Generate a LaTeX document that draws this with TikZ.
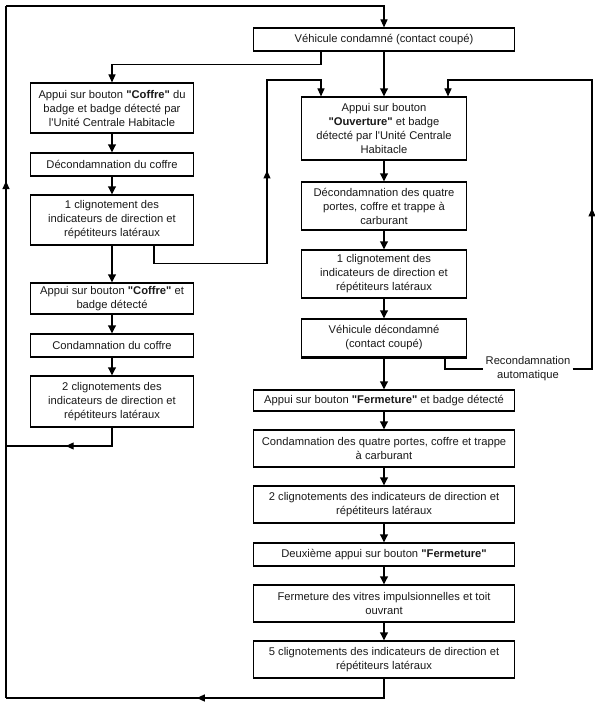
\documentclass[tikz,border=0pt]{standalone}
\usepackage{fontspec}
\setmainfont{Liberation Sans}[Ligatures=TeXOff]
\usetikzlibrary{arrows.meta,decorations.markings}
\begin{document}
\begin{tikzpicture}[x=1pt,y=-1pt,
  every node/.style={font=\fontsize{11.2}{14}\selectfont, text=black!90},
  bx/.style={draw, line width=1.1pt, inner sep=0pt, align=center},
  lcol/.style={bx, minimum width=163pt},
  rcol/.style={bx, minimum width=165pt},
  wcol/.style={bx, minimum width=261pt},
  line/.style={line width=1.1pt},
  arr/.style={-{Triangle[width=7pt,length=8pt]}},
  flow/.style={line width=1.9pt, -{Triangle[width=7.5pt,length=8pt]}},
  midarrow/.style={postaction={decorate,decoration={markings,mark=at position #1 with {\arrow{Triangle[width=7pt,length=8pt]}}}}}
]
\useasboundingbox (0,0) rectangle (594,708);

% top box
\node[bx, minimum width=261pt, minimum height=23pt] (top) at (384,39.5) {Véhicule condamné (contact coupé)};

% left column
\node[lcol, minimum height=50pt] (L1) at (112,108) {Appui sur bouton \textbf{"Coffre"} du\\badge et badge détecté par\\l'Unité Centrale Habitacle};
\node[lcol, minimum height=23pt] (L2) at (112,164.5) {Décondamnation du coffre};
\node[lcol, minimum height=50pt] (L3) at (112,220) {1 clignotement des\\indicateurs de direction et\\répétiteurs latéraux};
\node[lcol, minimum height=31pt] (L4) at (112,298.5) {Appui sur bouton \textbf{"Coffre"} et\\badge détecté};
\node[lcol, minimum height=23pt] (L5) at (112,345.5) {Condamnation du coffre};
\node[lcol, minimum height=51pt] (L6) at (112,401.5) {2 clignotements des\\indicateurs de direction et\\répétiteurs latéraux};

% right column
\node[rcol, minimum height=63pt] (R1) at (384,128.5) {Appui sur bouton\\\textbf{"Ouverture"} et badge\\détecté par l'Unité Centrale\\Habitacle};
\node[rcol, minimum height=48pt] (R2) at (384,206) {Décondamnation des quatre\\portes, coffre et trappe à\\carburant};
\node[rcol, minimum height=48pt] (R3) at (384,274) {1 clignotement des\\indicateurs de direction et\\répétiteurs latéraux};
\node[rcol, minimum height=38pt] (R4) at (384,338) {Véhicule décondamné\\(contact coupé)};
\draw[line width=2.8pt] (R4.south west) -- (R4.south east);

\node[wcol, minimum height=21pt] (R5) at (384,400.5) {Appui sur bouton \textbf{"Fermeture"} et badge détecté};
\node[wcol, minimum height=37pt] (R6) at (384,448.5) {Condamnation des quatre portes, coffre et trappe\\à carburant};
\node[wcol, minimum height=37pt] (R7) at (384,504.5) {2 clignotements des indicateurs de direction et\\répétiteurs latéraux};
\node[wcol, minimum height=23pt] (R8) at (384,554.5) {Deuxième appui sur bouton \textbf{"Fermeture"}};
\node[wcol, minimum height=37pt] (R9) at (384,603.5) {Fermeture des vitres impulsionnelles et toit\\ouvrant};
\node[wcol, minimum height=37pt] (R10) at (384,659.5) {5 clignotements des indicateurs de direction et\\répétiteurs latéraux};

% label
\node[inner xsep=2pt, inner ysep=1pt, align=center] (reco) at (528,369) {Recondamnation\\automatique};

% coordinates for the loops
\coordinate (bl) at (6,698);
\coordinate (tl) at (6,6);
\coordinate (jl) at (6,446);
\coordinate (lr) at (267,80);
\coordinate (rr) at (592,80);

% main flow arrows
\draw[flow] (top.south) -- (R1.north);
\draw[flow] (L1) -- (L2);
\draw[flow] (L2) -- (L3);
\draw[flow] (L3) -- (L4);
\draw[flow] (L4) -- (L5);
\draw[flow] (L5) -- (L6);
\draw[flow] (R1) -- (R2);
\draw[flow] (R2) -- (R3);
\draw[flow] (R3) -- (R4);
\draw[flow] (R4) -- (R5);
\draw[flow] (R5) -- (R6);
\draw[flow] (R6) -- (R7);
\draw[flow] (R7) -- (R8);
\draw[flow] (R8) -- (R9);
\draw[flow] (R9) -- (R10);

% top to left column
\draw[line,arr] ([xshift=-63pt]top.south) -- ++(0,13) -| (L1.north);

% big outer loop
\draw[line,midarrow=0.52] (R10.south) |- (bl);
\draw[line,midarrow=0.747] (bl) -- (tl);
\draw[line,arr] (tl) -| (top.north);

% left column end returns to left line
\draw[line,midarrow=0.52] (L6.south) |- (jl);

% left column to Ouverture
\draw[line,arr,midarrow=0.582] ([xshift=42pt]L3.south) -- ++(0,18) -| (lr) -| ([xshift=-63pt]R1.north);

% recondamnation automatique
\draw[line] ([xshift=61pt]R4.south) |- (reco.west);
\draw[line,arr,midarrow=0.384] (reco.east) -| (rr) -| ([xshift=64pt]R1.north);
\end{tikzpicture}
\end{document}
